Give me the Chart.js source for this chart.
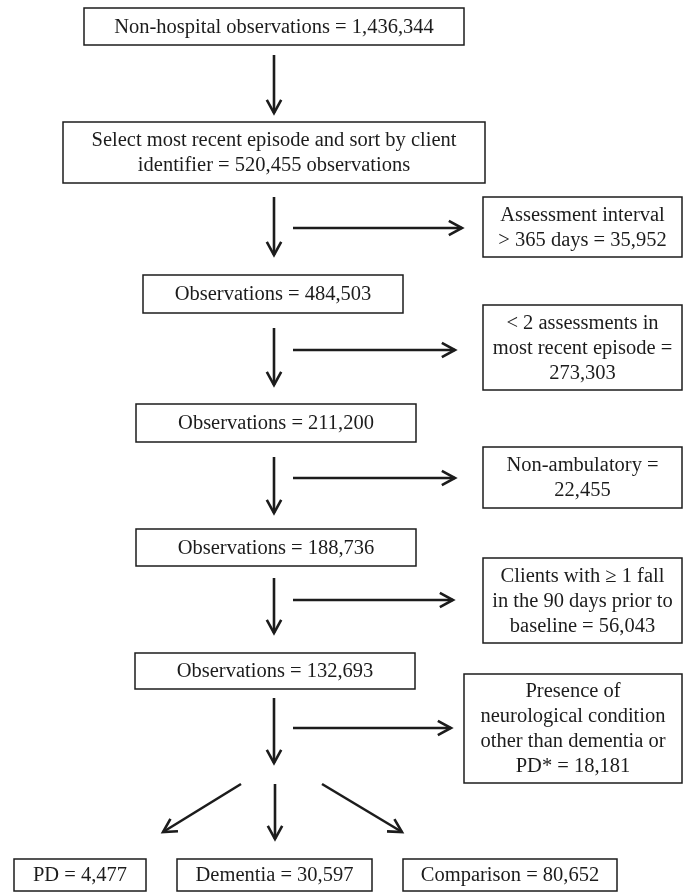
<!DOCTYPE html>
<html>
<head>
<meta charset="utf-8">
<script src="https://cdn.jsdelivr.net/npm/chart.js@4.4.1/dist/chart.umd.min.js"></script>
<style>
  html, body { margin: 0; padding: 0; background: #ffffff; }
  #wrap { width: 684px; height: 893px; position: relative; }
  canvas { display: block; }
</style>
</head>
<body>
<div id="wrap"><canvas id="c" width="684" height="893"></canvas></div>
<script>
// ---------- DATA ----------
const mainLabels = [
  "Non-hospital observations = {n}",
  "Select most recent episode and sort by client\nidentifier = {n} observations",
  "Observations = {n}",
  "Observations = {n}",
  "Observations = {n}",
  "Observations = {n}"
];
const mainCounts = [1436344, 520455, 484503, 211200, 188736, 132693];

const exclusionLabels = [
  "Assessment interval\n> 365 days = {n}",
  "< 2 assessments in\nmost recent episode =\n{n}",
  "Non-ambulatory =\n{n}",
  "Clients with \u2265 1 fall\nin the 90 days prior to\nbaseline = {n}",
  "Presence of\nneurological condition\nother than dementia or\nPD* = {n}"
];
const exclusionCounts = [35952, 273303, 22455, 56043, 18181];

const groupLabels = ["PD = {n}", "Dementia = {n}", "Comparison = {n}"];
const groupCounts = [4477, 30597, 80652];

// ---------- LAYOUT (positions in the 684 x 893 value space of the hidden axes) ----------
const mainBoxes = [
  [84, 464, 8, 45],
  [63, 485, 122, 183],
  [143, 403, 275, 313],
  [136, 416, 404, 442],
  [136, 416, 529, 566],
  [135, 415, 653, 689]
];
const sideBoxes = [
  [483, 682, 197, 257],
  [483, 682, 305, 390],
  [483, 682, 447, 508],
  [483, 682, 558, 643],
  [464, 682, 674, 783]
];
const groupBoxes = [
  [14, 146, 859, 891],
  [177, 372, 859, 891],
  [403, 617, 859, 891]
];
const downArrows = [
  [274, 55, 274, 113],
  [274, 197, 274, 255],
  [274, 328, 274, 385],
  [274, 457, 274, 513],
  [274, 578, 274, 633],
  [274, 698, 274, 763]
];
const sideArrows = [
  [293, 228, 462, 228],
  [293, 350, 455, 350],
  [293, 478, 455, 478],
  [293, 600, 453, 600],
  [293, 728, 451, 728]
];
const splitArrows = [
  [241, 784, 163, 832],
  [275, 784, 275, 839],
  [322, 784, 402, 832]
];

const INK = '#1c1c1c';
const FONT = '20.5px "Liberation Serif", "Times New Roman", serif';
const LINE_H = 25;

function fmt(n) { return n.toLocaleString('en-US'); }

const flowPlugin = {
  id: 'flow',
  afterDatasetsDraw(chart) {
    const ctx = chart.ctx;
    const xs = chart.scales.x, ys = chart.scales.y;
    const X = v => xs.getPixelForValue(v);
    const Y = v => ys.getPixelForValue(v);

    function box(b, template, count) {
      const x0 = X(b[0]), x1 = X(b[1]), y0 = Y(b[2]), y1 = Y(b[3]);
      ctx.save();
      ctx.strokeStyle = INK;
      ctx.lineWidth = 1.5;
      ctx.strokeRect(x0, y0, x1 - x0, y1 - y0);
      ctx.fillStyle = INK;
      ctx.font = FONT;
      ctx.textAlign = 'center';
      ctx.textBaseline = 'middle';
      const lines = template.replace('{n}', fmt(count)).split('\n');
      const cx = (x0 + x1) / 2, cy = (y0 + y1) / 2 + 1;
      const start = cy - (lines.length - 1) * LINE_H / 2;
      lines.forEach((t, i) => ctx.fillText(t, cx, start + i * LINE_H));
      ctx.restore();
    }

    function arrow(a) {
      const x0 = X(a[0]), y0 = Y(a[1]), x1 = X(a[2]), y1 = Y(a[3]);
      ctx.save();
      ctx.strokeStyle = INK;
      ctx.lineWidth = 2.6;
      ctx.lineCap = 'butt';
      ctx.beginPath();
      ctx.moveTo(x0, y0);
      ctx.lineTo(x1, y1);
      ctx.stroke();
      const ang = Math.atan2(y1 - y0, x1 - x0);
      const L = 15, spread = 0.5;
      ctx.lineJoin = 'miter';
      ctx.beginPath();
      ctx.moveTo(x1 - L * Math.cos(ang - spread), y1 - L * Math.sin(ang - spread));
      ctx.lineTo(x1, y1);
      ctx.lineTo(x1 - L * Math.cos(ang + spread), y1 - L * Math.sin(ang + spread));
      ctx.stroke();
      ctx.restore();
    }

    mainBoxes.forEach((b, i) => box(b, mainLabels[i], mainCounts[i]));
    sideBoxes.forEach((b, i) => box(b, exclusionLabels[i], exclusionCounts[i]));
    groupBoxes.forEach((b, i) => box(b, groupLabels[i], groupCounts[i]));
    downArrows.forEach(arrow);
    sideArrows.forEach(arrow);
    splitArrows.forEach(arrow);
  }
};

const bgPlugin = {
  id: 'bg',
  beforeDraw(chart) {
    const ctx = chart.ctx;
    ctx.save();
    ctx.fillStyle = '#ffffff';
    ctx.fillRect(0, 0, chart.width, chart.height);
    ctx.restore();
  }
};

new Chart(document.getElementById('c'), {
  type: 'scatter',
  data: { datasets: [{ data: [], pointRadius: 0 }] },
  options: {
    responsive: false,
    animation: false,
    devicePixelRatio: 1,
    layout: { padding: 0 },
    plugins: { legend: { display: false }, tooltip: { enabled: false } },
    scales: {
      x: { type: 'linear', min: 0, max: 684, display: false },
      y: { type: 'linear', min: 0, max: 893, reverse: true, display: false }
    }
  },
  plugins: [bgPlugin, flowPlugin]
});
</script>
</body>
</html>
